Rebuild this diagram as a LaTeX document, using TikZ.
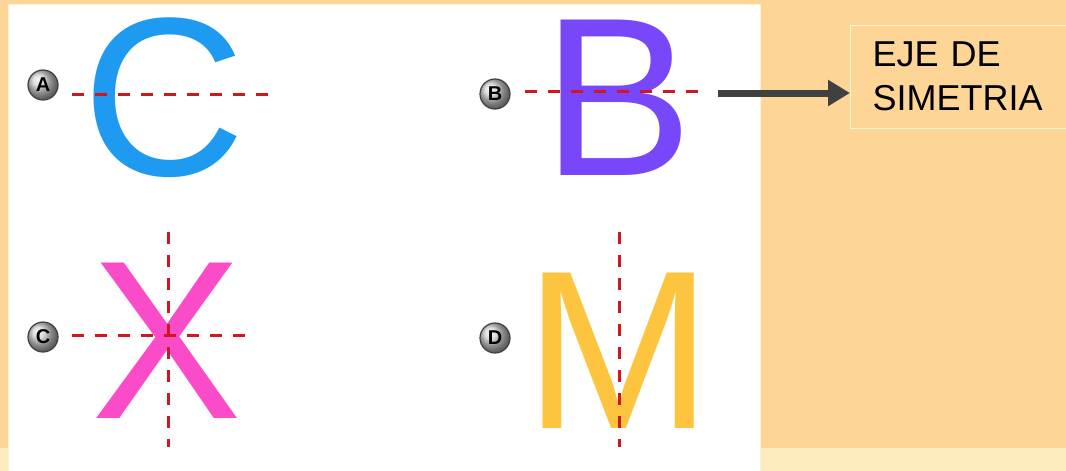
\documentclass[tikz,border=0pt]{standalone}
\usepackage{fontspec}
\setmainfont{Liberation Sans}
\usetikzlibrary{positioning, arrows.meta}
\definecolor{fondo}{HTML}{FDD597}
\definecolor{franja}{HTML}{FCEBBD}
\definecolor{borde}{HTML}{FFF1D6}
\definecolor{ejerojo}{HTML}{D0161F}
\definecolor{azulc}{HTML}{1E9BF0}
\definecolor{moradob}{HTML}{7847FA}
\definecolor{rosax}{HTML}{FA4CC8}
\definecolor{amarillom}{HTML}{FCC43F}
\definecolor{flecha}{HTML}{404040}

\begin{document}
\begin{tikzpicture}[x=1pt, y=-1pt,
                  letra/.style={anchor=base, inner sep=0pt,
                              font=\fontsize{226}{226}\selectfont},
                  boton/.style={circle, inner sep=0pt, minimum size=30pt,
                              shading=ball, ball color=gray!35, draw=black!75,
                              line width=1.2pt, text=black,
                              font=\fontsize{20}{20}\selectfont\bfseries},
                  eje/.style={ejerojo, line width=3pt, dash pattern=on 12pt off 11pt},
                  arr/.style={-{Triangle[length=22pt, width=25pt]}, flecha, line width=7pt},
            ]
            \useasboundingbox (0,0) rectangle (1066,471);
            \clip (0,0) rectangle (1066,471);
            % fondo y panel blanco
            \fill[fondo] (0,0) rectangle (1066,471);
            \fill[franja] (0,448) rectangle (1066,471);
            \fill[white, draw=borde, line width=1pt] (8,4) rectangle (760,473);

            % letras
            \node[letra, text=azulc] (c) at (164,175) {C};
            \node[letra, text=moradob] (b) at (618,175) {B};
            \node[letra, text=rosax] (x) at (167,418) {X};
            \node[letra, text=amarillom] (m) at (619,428) {M};

            % botones
            \node[boton] (ba) at (43,85) {A};
            \node[boton] (bb) at (495,94) {B};
            \node[boton] (bc) at (43,337) {C};
            \node[boton] (bd) at (495,338) {D};

            % ejes de simetria
            \draw[eje] (72,94) -- (275,94);
            \draw[eje] (525,91) -- (705,91);
            \draw[eje] (72,335) -- (252,335);
            \draw[eje] (168,232) -- (168,447);
            \draw[eje] (619,232) -- (619,447);

            % cuadro de texto
            \node[draw=borde, line width=1pt, anchor=west, minimum width=232pt,
                  minimum height=103pt, inner xsep=22pt, text width=188pt,
                  align=left, font=\fontsize{36}{44}\selectfont]
                  (txt) at (850,76.5) {EJE DE\\SIMETRIA};

            \coordinate (inicio) at (718,93);
            \draw[arr] (inicio) -- (txt.west |- inicio);
      \end{tikzpicture}
\end{document}
